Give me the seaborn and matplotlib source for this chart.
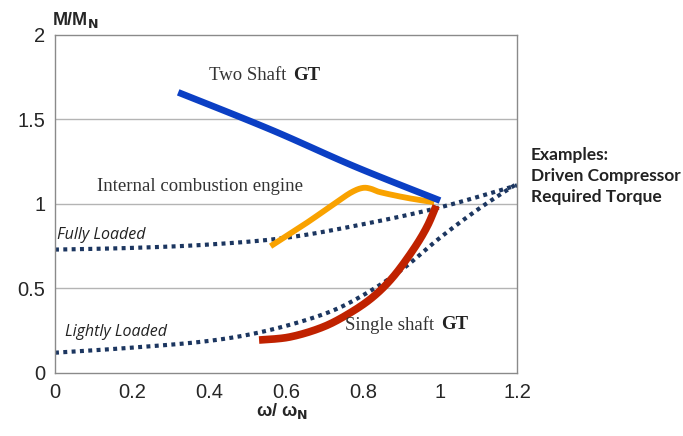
import seaborn as sns
import pandas as pd
import numpy as np
import matplotlib.pyplot as plt

# curves (speed ratio, torque ratio)
two_shaft_x = [0.32, 0.56, 0.78, 1.0]
two_shaft_y = [1.66, 1.44, 1.22, 1.02]

ice_x = [0.56, 0.655, 0.74, 0.775, 0.8, 0.82, 0.844, 0.914, 0.985]
ice_y = [0.75, 0.89, 1.025, 1.075, 1.095, 1.09, 1.07, 1.036, 1.01]

single_x = [0.53, 0.61, 0.696, 0.766, 0.826, 0.878, 0.93, 0.966, 0.99]
single_y = [0.195, 0.213, 0.272, 0.355, 0.45, 0.568, 0.728, 0.864, 0.99]

fully_x = [0.0, 0.2, 0.4, 0.6, 0.8, 1.0, 1.2]
fully_y = [0.73, 0.74, 0.76, 0.80, 0.88, 0.98, 1.11]

light_x = [0.0, 0.2, 0.4, 0.55, 0.7, 0.8, 0.9, 1.0, 1.1, 1.2]
light_y = [0.12, 0.15, 0.19, 0.25, 0.35, 0.46, 0.61, 0.80, 0.97, 1.12]

xticks = [0, 0.2, 0.4, 0.6, 0.8, 1, 1.2]
xtick_labels = ["0", "0.2", "0.4", "0.6", "0.8", "1", "1.2"]
yticks = [0, 0.5, 1, 1.5, 2]
ytick_labels = ["0", "0.5", "1", "1.5", "2"]

sns.set_style("white")
plt.rcParams['font.family'] = ['Liberation Sans', 'DejaVu Sans']


def smooth(xs, ys, n=120):
    # smooth a hand-read polyline through its points (Catmull-Rom)
    p = np.column_stack([xs, ys])
    p = np.vstack([p[0], p, p[-1]])
    out = []
    for i in range(1, len(p) - 2):
        p0, p1, p2, p3 = p[i - 1], p[i], p[i + 1], p[i + 2]
        t = np.linspace(0, 1, n // (len(p) - 3) + 2)[:, None]
        seg = 0.5 * ((2 * p1) + (-p0 + p2) * t + (2 * p0 - 5 * p1 + 4 * p2 - p3) * t ** 2
                     + (-p0 + 3 * p1 - 3 * p2 + p3) * t ** 3)
        out.append(seg if i == 1 else seg[1:])
    out = np.vstack(out)
    return pd.DataFrame({"x": out[:, 0], "y": out[:, 1]})


fig = plt.figure(figsize=(6.83, 4.36), dpi=100)
ax = fig.add_axes([0.0805, 0.1445, 0.6765, 0.7755])

dot = dict(linestyle=(0, (0.95, 1.05)), dash_capstyle='butt', lw=3.0, color='#1c3660')
sns.lineplot(data=smooth(fully_x, fully_y), x="x", y="y", ax=ax, sort=False, **dot)
sns.lineplot(data=smooth(light_x, light_y), x="x", y="y", ax=ax, sort=False, **dot)
sns.lineplot(data=smooth(ice_x, ice_y), x="x", y="y", ax=ax, sort=False, color='#f9a200',
             lw=4.2, solid_capstyle='butt')
sns.lineplot(data=smooth(single_x, single_y), x="x", y="y", ax=ax, sort=False,
             color='#c02200', lw=5.5, solid_capstyle='butt')
sns.lineplot(data=smooth(two_shaft_x, two_shaft_y), x="x", y="y", ax=ax, sort=False,
             color='#0b3fc4', lw=4.8, solid_capstyle='butt')

ax.set_xlim(0, 1.2)
ax.set_ylim(0, 2)
ax.set_xlabel("")
ax.set_ylabel("")
ax.set_xticks(xticks)
ax.set_xticklabels(xtick_labels, fontsize=14.5)
ax.set_yticks(yticks)
ax.set_yticklabels(ytick_labels, fontsize=14.5)
ax.tick_params(length=0, pad=7)
for y in [0.5, 1, 1.5]:
    ax.axhline(y, color='#b4b4b4', lw=1, zorder=0)
for s in ax.spines.values():
    s.set_color('#8a8a8a')
    s.set_linewidth(1)

serif = ['Liberation Serif', 'DejaVu Serif']


def label_gt(x, y, head):
    t = ax.text(x, y, head, family=serif, fontsize=13.5, va='center', color='#333333')
    ax.annotate("GT", xy=(1, 0.5), xycoords=t, xytext=(5, 0), textcoords='offset points',
                family=serif, fontsize=13.5, fontweight='bold', va='center', color='#222222')


label_gt(0.4, 1.76, "Two Shaft")
label_gt(0.753, 0.285, "Single shaft")
ax.text(0.11, 1.105, "Internal combustion engine", family=serif, fontsize=13.5,
        va='center', color='#333333')
ax.text(0.005, 0.815, "Fully Loaded", family=['Open Sans', 'DejaVu Sans'], style='italic',
        fontsize=11.5, va='center', color='#222222')
ax.text(0.026, 0.245, "Lightly Loaded", family=['Open Sans', 'DejaVu Sans'], style='italic',
        fontsize=11.5, va='center', color='#222222')

fig.text(0.777, 0.596, "Examples:\nDriven Compressor\nRequired Torque",
         family=['Lato', 'DejaVu Sans'], fontweight='bold', fontsize=12.5,
         va='center', ha='left', linespacing=1.4, color='#222222')

fig.text(0.076, 0.955, r"M/M$_\mathbf{N}$", fontsize=13, fontweight='bold', va='center')
fig.text(0.413, 0.058, r"ω/ ω$_\mathbf{N}$", fontsize=13, fontweight='bold', va='center',
         ha='center')

plt.savefig('out.png', dpi=100)
